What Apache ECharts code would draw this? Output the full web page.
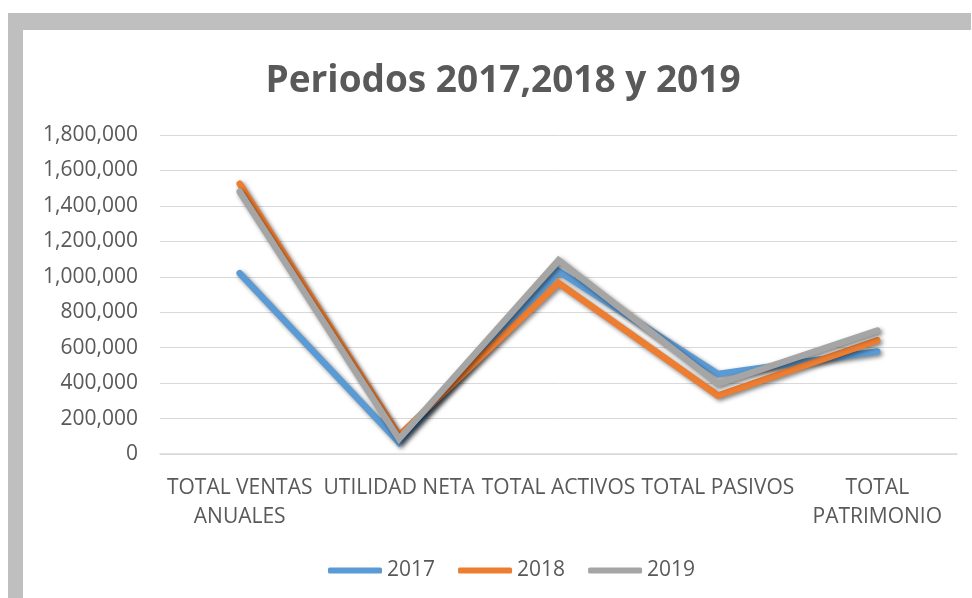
<!DOCTYPE html>
<html>
<head>
<meta charset="utf-8">
<title>Periodos 2017,2018 y 2019</title>
<script src="https://cdn.jsdelivr.net/npm/echarts@6/dist/echarts.min.js"></script>
<style>
  html, body { margin: 0; padding: 0; background: #fff; }
  #frame {
    position: absolute; left: 8px; top: 13px; width: 948px; height: 568px;
    border-left: 15px solid #bfbfbf; border-top: 17px solid #bfbfbf;
  }
  #chart { position: absolute; left: 0; top: 0; width: 972px; height: 598px; }
</style>
</head>
<body>
<div id="frame"></div>
<div id="chart"></div>
<script>
// categorias y valores
const categories = ['TOTAL VENTAS\nANUALES', 'UTILIDAD NETA', 'TOTAL ACTIVOS', 'TOTAL PASIVOS', 'TOTAL\nPATRIMONIO']
const years = ['2017', '2018', '2019']
const data2017 = [1020000, 65000, 1033000, 452000, 578000]
const data2018 = [1525000, 105000, 965000, 330000, 641000]
const data2019 = [1480000, 85000, 1093000, 396000, 697000]
const yTicks = { min: 0, max: 1800000, interval: 200000 }

const colors = ['#5b9bd5', '#ed7d31', '#a5a5a5']
const font = "'Open Sans', 'Liberation Sans', sans-serif"

const chart = echarts.init(document.getElementById('chart'), null, { renderer: 'canvas' })

function lineSeries(name, data, color) {
  return {
    name: name,
    type: 'line',
    data: data,
    showSymbol: false,
    symbol: 'none',
    animation: false,
    lineStyle: {
      color: color,
      width: 6.5,
      cap: 'round',
      join: 'miter',
      shadowColor: 'rgba(0,0,0,0.5)',
      shadowBlur: 4,
      shadowOffsetX: 2,
      shadowOffsetY: 2
    },
    itemStyle: { color: color }
  }
}

chart.setOption({
  backgroundColor: 'transparent',
  color: colors,
  title: {
    text: 'Periodos 2017,2018 y 2019',
    left: 498,
    textAlign: 'center',
    top: 58,
    textStyle: {
      fontFamily: font,
      fontSize: 37,
      fontWeight: 'bold',
      color: '#595959'
    }
  },
  grid: {
    left: 160,
    right: 15,
    top: 135,
    bottom: 144,
    containLabel: false
  },
  legend: {
    data: years,
    bottom: 12,
    left: 323,
    icon: 'roundRect',
    itemWidth: 54,
    itemHeight: 6,
    itemGap: 23,
    textStyle: {
      fontFamily: font,
      fontSize: 21,
      color: '#595959',
      padding: [0, 0, 0, 0]
    }
  },
  xAxis: {
    type: 'category',
    data: categories,
    boundaryGap: true,
    axisLine: { show: true, lineStyle: { color: '#d9d9d9', width: 1.5 } },
    axisTick: { show: false },
    axisLabel: {
      interval: 0,
      margin: 20,
      fontFamily: font,
      fontSize: 21,
      lineHeight: 29,
      color: '#595959'
    }
  },
  yAxis: {
    type: 'value',
    min: yTicks.min,
    max: yTicks.max,
    interval: yTicks.interval,
    axisLine: { show: false },
    axisTick: { show: false },
    splitLine: { lineStyle: { color: '#d9d9d9', width: 1 } },
    axisLabel: {
      margin: 22,
      fontFamily: font,
      fontSize: 21,
      color: '#595959',
      formatter: function(v) { return v.toLocaleString('en-US') }
    }
  },
  series: [
    lineSeries(years[0], data2017, colors[0]),
    lineSeries(years[1], data2018, colors[1]),
    lineSeries(years[2], data2019, colors[2])
  ]
})
</script>
</body>
</html>
